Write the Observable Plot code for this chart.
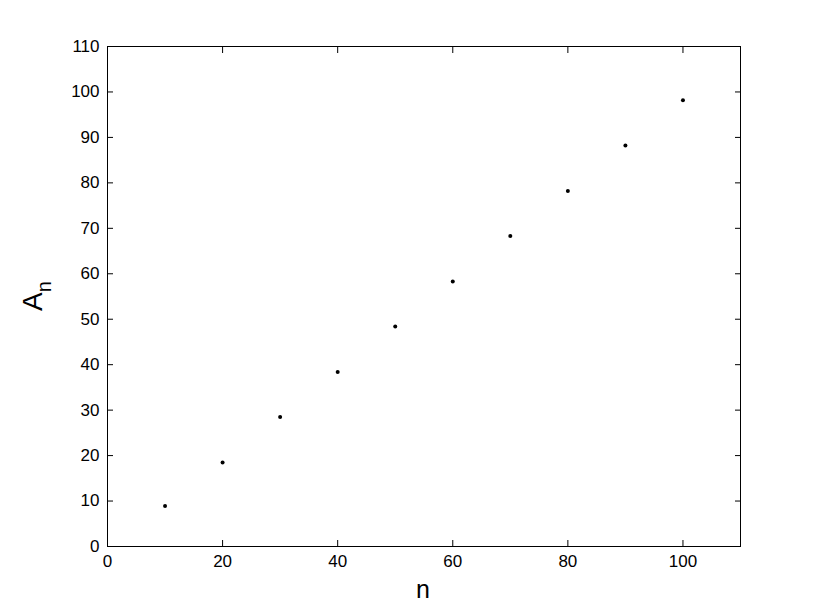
<!DOCTYPE html>
<html>
<head>
<meta charset="utf-8">
<script src="https://cdn.jsdelivr.net/npm/d3@7"></script>
<script src="https://cdn.jsdelivr.net/npm/@observablehq/plot@0.6"></script>
<style>
  html, body { margin: 0; padding: 0; background: #fff; }
  #chart { width: 817px; height: 615px; }
</style>
</head>
<body>
<div id="chart"></div>
<script>
const nValues = [10, 20, 30, 40, 50, 60, 70, 80, 90, 100];
const aValues = [8.9, 18.5, 28.5, 38.4, 48.4, 58.3, 68.3, 78.2, 88.2, 98.2];
const xTicks = [0, 20, 40, 60, 80, 100];
const yTicks = [0, 10, 20, 30, 40, 50, 60, 70, 80, 90, 100, 110];

const data = nValues.map((n, i) => ({n, a: aValues[i]}));
const font = "'Liberation Sans', Arial, Helvetica, sans-serif";
const empty = () => "";

const plot = Plot.plot({
  width: 817,
  height: 615,
  marginLeft: 107,
  marginRight: 77,
  marginTop: 46,
  marginBottom: 69,
  style: {fontFamily: font, fontSize: "16px", color: "#000", background: "#fff"},
  x: {domain: [0, 110], label: null},
  y: {domain: [0, 110], label: null},
  marks: [
    Plot.frame({stroke: "#000", strokeWidth: 1}),
    Plot.axisX(xTicks, {anchor: "bottom", tickSize: 0, tickPadding: 8, fontSize: 17, label: null}),
    Plot.axisY(yTicks, {anchor: "left", tickSize: 0, tickPadding: 8, fontSize: 17, label: null}),
    Plot.axisX(xTicks, {anchor: "bottom", tickSize: -6, tickFormat: empty, label: null}),
    Plot.axisX(xTicks, {anchor: "top", tickSize: -6, tickFormat: empty, label: null}),
    Plot.axisY(yTicks, {anchor: "left", tickSize: -6, tickFormat: empty, label: null}),
    Plot.axisY(yTicks, {anchor: "right", tickSize: -6, tickFormat: empty, label: null}),
    Plot.dot(data, {x: "n", y: "a", r: 2, fill: "#000", stroke: "none"})
  ]
});

const svg = d3.select(plot);
svg.append("text")
  .attr("x", 423).attr("y", 598)
  .attr("text-anchor", "middle")
  .attr("font-family", font)
  .attr("font-size", 25)
  .attr("fill", "#000")
  .text("n");
const yl = svg.append("text")
  .attr("transform", "translate(42,296) rotate(-90)")
  .attr("text-anchor", "middle")
  .attr("font-family", font)
  .attr("font-size", 28)
  .attr("fill", "#000");
yl.append("tspan").text("A");
yl.append("tspan").attr("font-size", 20).attr("dy", 9).text("n");

document.getElementById("chart").appendChild(plot);
</script>
</body>
</html>
